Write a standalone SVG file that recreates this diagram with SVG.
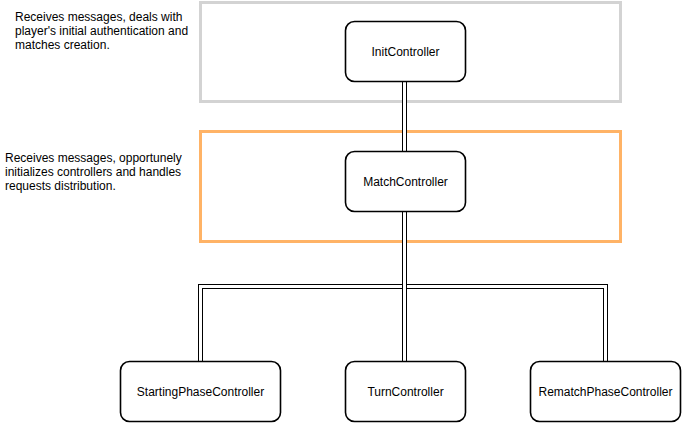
<svg xmlns="http://www.w3.org/2000/svg" width="682" height="423" viewBox="0 0 682 423">
<style>
text{font-family:"Liberation Sans",Arial,Helvetica,sans-serif;font-size:12px;fill:#000}
.node rect{fill:#fff;stroke:#000;stroke-width:1.6}
.node text{text-anchor:middle;dominant-baseline:central}
.outer{fill:none;stroke:#000;stroke-width:5}
.inner{fill:none;stroke:#fff;stroke-width:3}
.note text{text-anchor:start}
</style>
<rect width="682" height="423" fill="#fff"/>
<g id="groupInit"><rect x="200.5" y="2.5" width="420" height="99" fill="none" stroke="#D3D3D3" stroke-width="3"/></g>
<g id="groupMatch"><rect x="200.5" y="131.5" width="420" height="110" fill="none" stroke="#FFB366" stroke-width="3"/></g>
<g id="connectors">
<path class="outer" d="M404.5 81V151"/><path class="inner" d="M404.5 81V151"/>
<path class="outer" d="M404.5 211V286.5H200.5V361.5"/><path class="inner" d="M404.5 211V286.5H200.5V361.5"/>
<path class="outer" d="M404.5 211V286.5H605.5V361.5"/><path class="inner" d="M404.5 211V286.5H605.5V361.5"/>
<path class="outer" d="M404.5 211V361.5"/><path class="inner" d="M404.5 211V361.5"/>
</g>
<g id="note1" class="note"><text x="15" y="21">Receives messages, deals with</text><text x="15" y="35">player's initial authentication and</text><text x="15" y="49">matches creation.</text></g>
<g id="note2" class="note"><text x="5" y="162">Receives messages, opportunely</text><text x="5" y="176">initializes controllers and handles</text><text x="5" y="190">requests distribution.</text></g>
<g id="InitController" class="node"><rect x="345.5" y="21.5" width="120" height="60" rx="9"/><text x="405.5" y="51.5">InitController</text></g>
<g id="MatchController" class="node"><rect x="345.5" y="151.5" width="120" height="60" rx="9"/><text x="405.5" y="181.5">MatchController</text></g>
<g id="StartingPhaseController" class="node"><rect x="120.5" y="361.5" width="160" height="60" rx="9"/><text x="200.5" y="391.5">StartingPhaseController</text></g>
<g id="TurnController" class="node"><rect x="345.5" y="361.5" width="120" height="60" rx="9"/><text x="405.5" y="391.5">TurnController</text></g>
<g id="RematchPhaseController" class="node"><rect x="530.5" y="361.5" width="150" height="60" rx="9"/><text x="605.5" y="391.5">RematchPhaseController</text></g>
</svg>
